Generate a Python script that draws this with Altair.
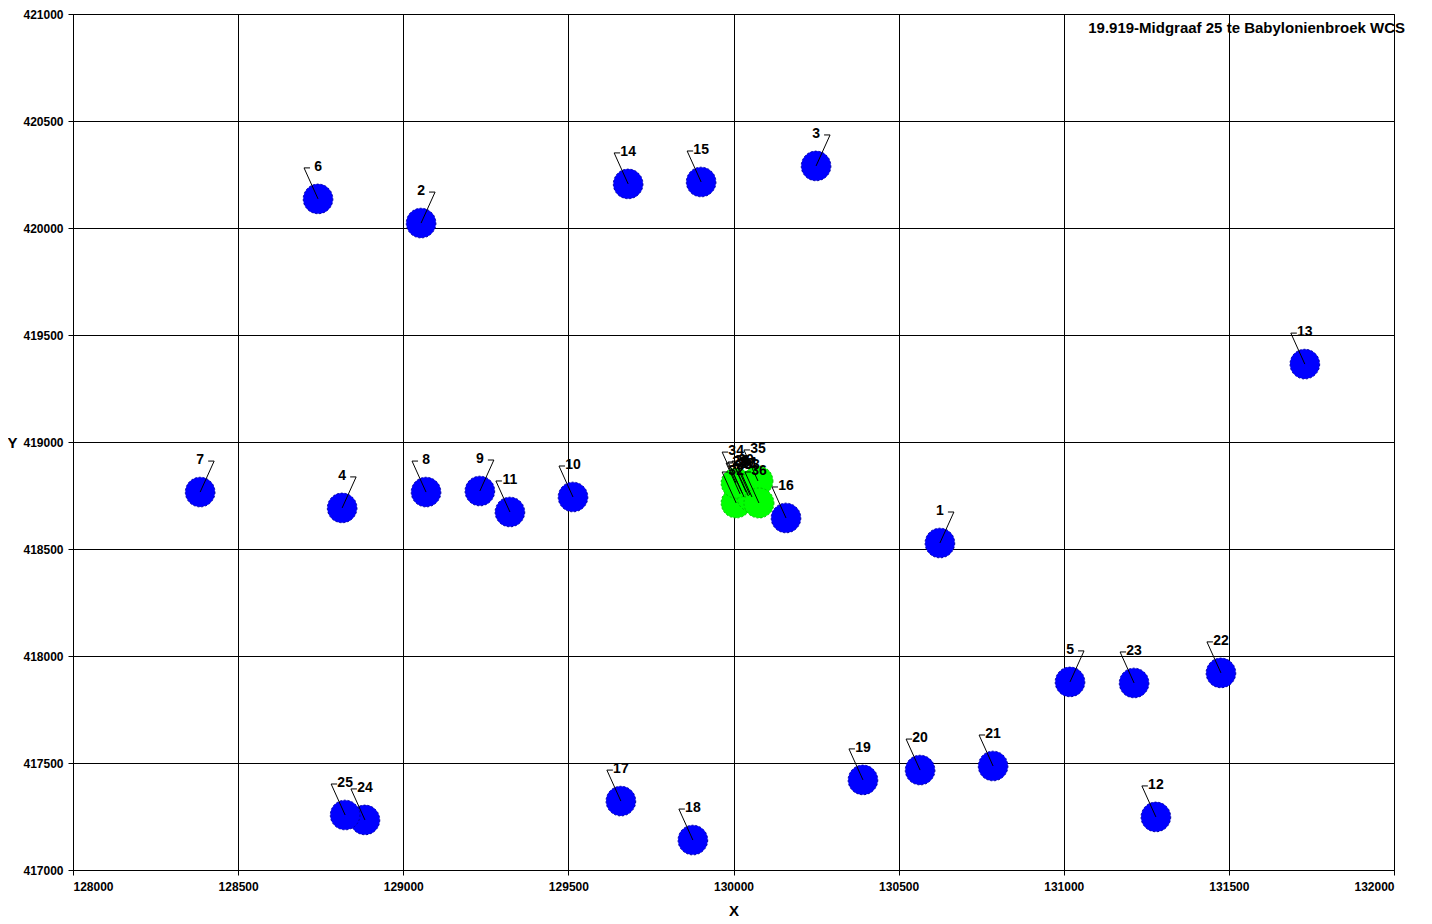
import altair as alt
import pandas as pd

# --- data ---
ids = [1, 2, 3, 4, 5, 6, 7, 8, 9, 10, 11, 12, 13, 14, 15, 16, 17, 18, 19, 20,
       21, 22, 23, 24, 25,
       26, 27, 28, 29, 30, 31, 32, 33, 34, 35, 36]
xs = [130625, 129054, 130250, 128815, 131019, 128742, 128385, 129069, 129232, 129514,
      129323, 131279, 131730, 129681, 129902, 130159, 129659, 129877, 130392, 130565,
      130786, 131476, 131213, 128884, 128824,
      130026, 130045, 130032, 130020, 130038, 130050, 130008, 130056, 130008, 130074, 130077]
ys = [418528, 420023, 420290, 418692, 417879, 420136, 418766, 418766, 418771, 418743,
      418673, 417248, 419364, 420206, 420215, 418645, 417322, 417140, 417421, 417467,
      417486, 417921, 417874, 417234, 417257,
      418762, 418748, 418743, 418757, 418766, 418752, 418715, 418743, 418808, 418818, 418715]
groups = ["blue"] * 25 + ["green"] * 11
sides = ["R", "R", "R", "R", "R", "L", "R", "L", "R", "L",
         "L", "L", "L", "L", "L", "L", "L", "L", "L", "L",
         "L", "L", "L", "L", "L",
         "L", "L", "L", "L", "L", "L", "L", "L", "L", "L", "L"]
title_text = "19.919-Midgraaf 25 te Babylonienbroek WCS"
x_ticks = [128000, 128500, 129000, 129500, 130000, 130500, 131000, 131500, 132000]
y_ticks = [417000, 417500, 418000, 418500, 419000, 419500, 420000, 420500, 421000]

df = pd.DataFrame({"id": ids, "x": xs, "y": ys, "g": groups, "side": sides})
df["label"] = df["id"].astype(str)

FONT = "Liberation Sans"

xenc = alt.X("x:Q",
             scale=alt.Scale(domain=[128000, 132000], nice=False, zero=False),
             axis=alt.Axis(values=x_ticks, format="d", title="X", grid=True,
                           titleY=40, titleBaseline="middle", labelPadding=6))
yenc = alt.Y("y:Q",
             scale=alt.Scale(domain=[417000, 421000], nice=False, zero=False),
             axis=alt.Axis(values=y_ticks, format="d", title="Y", grid=True,
                           titleAngle=0, titleX=-61, titleY=428, titleAlign="center",
                           titleBaseline="middle", labelPadding=5))

base = alt.Chart(df).encode(x=xenc, y=yenc)

green = base.transform_filter(alt.datum.g == "green").mark_circle(
    size=900, opacity=1, fill="#00FF00", stroke="#00C000", strokeWidth=1, strokeDash=[2, 2])
blue = base.transform_filter(alt.datum.g == "blue").mark_circle(
    size=880, opacity=1, fill="#0000FF", stroke="#0000A0", strokeWidth=1, strokeDash=[2, 2])

x2 = alt.X2("x:Q")
y2 = alt.Y2("y:Q")
left = base.transform_filter(alt.datum.side == "L")
right = base.transform_filter(alt.datum.side == "R")

lead_l = left.mark_rule(color="black", strokeWidth=1, x2Offset=-14, y2Offset=-31).encode(x2=x2, y2=y2)
tick_l = left.mark_rule(color="black", strokeWidth=1, xOffset=-14, x2Offset=-8,
                        yOffset=-31, y2Offset=-31).encode(x2=x2, y2=y2)
lead_r = right.mark_rule(color="black", strokeWidth=1, x2Offset=14, y2Offset=-31).encode(x2=x2, y2=y2)
tick_r = right.mark_rule(color="black", strokeWidth=1, xOffset=14, x2Offset=8,
                         yOffset=-31, y2Offset=-31).encode(x2=x2, y2=y2)

labels = base.mark_text(font=FONT, fontSize=14, fontWeight="bold", color="black",
                        align="center", baseline="middle", dy=-32).encode(text="label:N")

title = alt.Chart(pd.DataFrame({"t": [title_text]})).mark_text(
    font=FONT, fontSize=15, fontWeight="bold", color="black", align="right",
    baseline="middle").encode(x=alt.value(1332), y=alt.value(14), text="t:N")

chart = alt.layer(green, blue, lead_l, tick_l, lead_r, tick_r, labels, title).properties(
    width=1321, height=856,
    padding={"left": 65, "top": 6, "right": 25, "bottom": 50},
    autosize=alt.AutoSizeParams(type="none"),
    background="white",
).configure_view(stroke="black", strokeWidth=1).configure_axis(
    gridColor="black", gridOpacity=1, gridWidth=1,
    domainColor="black", tickColor="black", tickSize=5,
    labelColor="black", labelFont=FONT, labelFontWeight="bold", labelFontSize=12,
    titleColor="black", titleFont=FONT, titleFontWeight="bold", titleFontSize=15,
)

chart.save("out.html", embed_options={"renderer": "svg", "actions": False})
